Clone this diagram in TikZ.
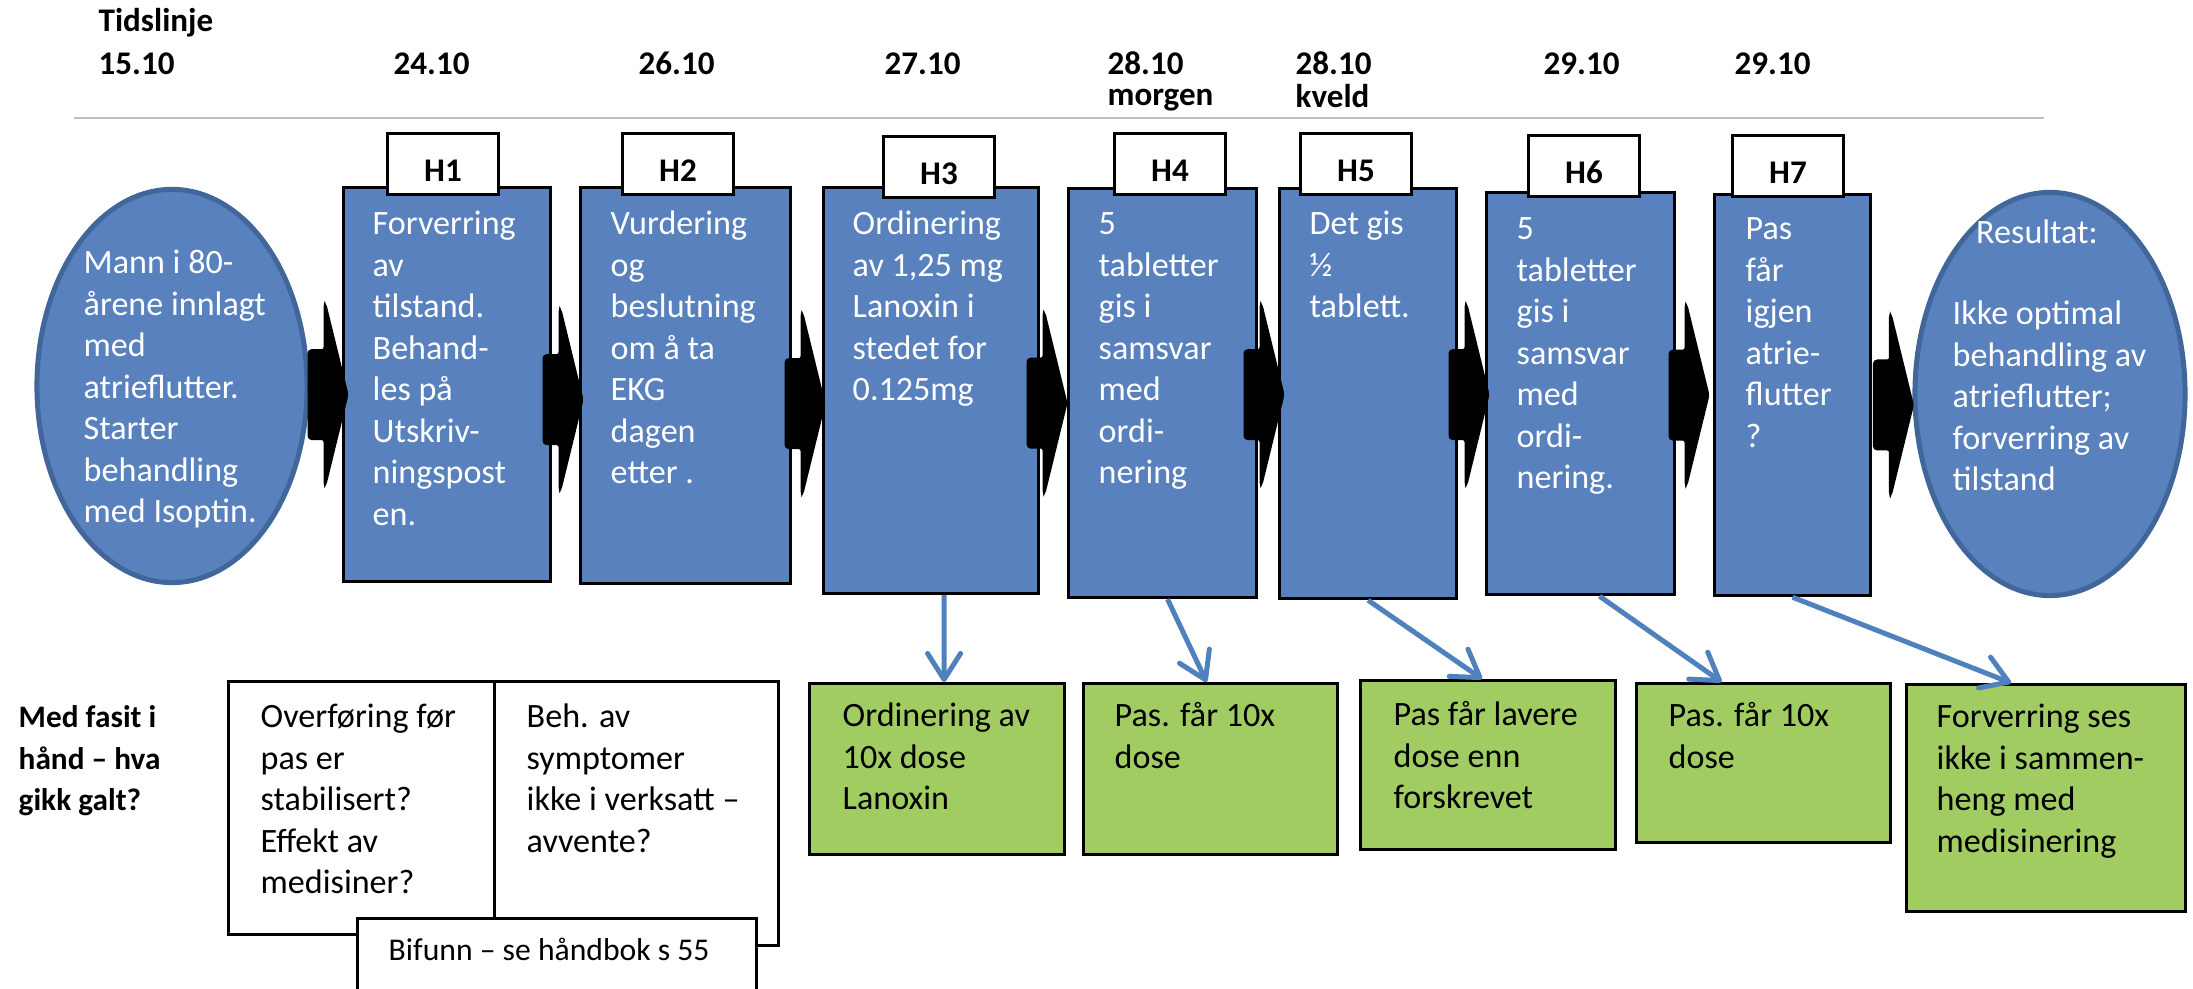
\documentclass[tikz,border=0pt]{standalone}
\usepackage{fontspec}
\setmainfont{Carlito}
\usetikzlibrary{shapes.geometric,arrows.meta,calc}
\definecolor{boxblue}{RGB}{88,129,189}
\definecolor{rimblue}{RGB}{65,103,154}
\definecolor{linkblue}{RGB}{79,129,189}
\definecolor{errgreen}{RGB}{160,204,98}
\definecolor{rulegray}{RGB}{190,190,190}
\newcommand{\textlines}[1]{\begin{tabular}[t]{@{}l@{}}#1\end{tabular}}
\tikzset{
  txt/.style={font=\fontsize{9.7}{11.8}\selectfont, anchor=base west, inner sep=0pt},
  wtxt/.style={txt, text=white},
  datelbl/.style={font=\bfseries\fontsize{9.4}{8.8}\selectfont, anchor=base west, inner sep=0pt},
  endpt/.style={ellipse, draw=rimblue, fill=boxblue, line width=0.05cm, inner sep=0pt},
  hbox/.style={draw=black, fill=boxblue, line width=0.03cm, anchor=north west, inner sep=0pt},
  hlabel/.style={draw=black, fill=white, line width=0.03cm, anchor=north west, inner ysep=0pt,
    minimum width=1.11cm, text height=0.48cm, text depth=0.13cm, font=\bfseries\fontsize{9.4}{11}\selectfont},
  errbox/.style={draw=black, fill=errgreen, line width=0.03cm, anchor=north west, inner sep=0pt},
  notebox/.style={draw=black, fill=white, line width=0.03cm, anchor=north west, inner sep=0pt},
  blockarrow/.style={draw=black, fill=black, line width=0.03cm, rounded corners=0.03cm},
  link/.style={draw=linkblue, line width=0.05cm, -{Straight Barb[length=0.26cm, width=0.33cm, round]}}
}

\begin{document}
\begin{tikzpicture}[x=0.01cm, y=-0.01cm]
  \useasboundingbox (0,0) rectangle (2193,989);
  \clip (0,0) rectangle (2193,989);

  \node[datelbl] (tl) at (98,32) {Tidslinje};
  \node[datelbl] (d1) at (98,75) {15.10};
  \node[datelbl] (d2) at (393,75) {24.10};
  \node[datelbl] (d3) at (638,75) {26.10};
  \node[datelbl] (d4) at (884,75) {27.10};
  \node[datelbl] (d5) at (1107,75) {\textlines{28.10\\morgen}};
  \node[datelbl] (d6) at (1295,75) {\textlines{28.10\\kveld}};
  \node[datelbl] (d7) at (1543,75) {29.10};
  \node[datelbl] (d8) at (1734,75) {29.10};
  \draw[rulegray, line width=0.02cm] (74,118) -- (2044,118);

  \node[endpt, minimum width=2.7cm, minimum height=3.93cm] (start) at (172,386) {};
  \node[wtxt] (starttxt) at (83,274) {\textlines{Mann i 80-\\årene innlagt\\med\\atrieflutter.\\Starter\\behandling\\med Isoptin.}};

  \node[hbox, minimum width=2.07cm, minimum height=3.94cm] (h1) at (342,186) {};
  \node[hbox, minimum width=2.10cm, minimum height=3.96cm] (h2) at (579,186) {};
  \node[hbox, minimum width=2.15cm, minimum height=4.06cm] (h3) at (822,186) {};
  \node[hbox, minimum width=1.88cm, minimum height=4.09cm] (h4) at (1067,187) {};
  \node[hbox, minimum width=1.77cm, minimum height=4.10cm] (h5) at (1278,187) {};
  \node[hbox, minimum width=1.88cm, minimum height=4.02cm] (h6) at (1485,191) {};
  \node[hbox, minimum width=1.56cm, minimum height=4.01cm] (h7) at (1713,193) {};

  \node[wtxt] (h1txt) at (372,235) {\textlines{Forverring\\av\\tilstand.\\Behand-\\les på\\Utskriv-\\ningspost\\en.}};
  \node[wtxt] (h2txt) at (610,235) {\textlines{Vurdering\\og\\beslutning\\om å ta\\EKG\\dagen\\etter .}};
  \node[wtxt] (h3txt) at (852,235) {\textlines{Ordinering\\av 1,25 mg\\Lanoxin i\\stedet for\\0.125mg}};
  \node[wtxt] (h4txt) at (1098,235) {\textlines{5\\tabletter\\gis i\\samsvar\\med\\ordi-\\nering}};
  \node[wtxt] (h5txt) at (1309,235) {\textlines{Det gis\\½\\tablett.}};
  \node[wtxt] (h6txt) at (1516,240) {\textlines{5\\tabletter\\gis i\\samsvar\\med\\ordi-\\nering.}};
  \node[wtxt] (h7txt) at (1745,240) {\textlines{Pas\\får\\igjen\\atrie-\\flutter\\?}};

  \node[hlabel] (l1) at (386,132) {H1};
  \node[hlabel] (l2) at (621,132) {H2};
  \node[hlabel] (l3) at (882,135) {H3};
  \node[hlabel] (l4) at (1113,132) {H4};
  \node[hlabel] (l5) at (1299,132) {H5};
  \node[hlabel] (l6) at (1527,134) {H6};
  \node[hlabel] (l7) at (1731,134) {H7};

  \node[endpt, minimum width=2.7cm, minimum height=4.03cm] (result) at (2050,394) {};
  \node[wtxt, anchor=base] (restitle) at (2037,244) {Resultat:};
  \node[wtxt] (restxt) at (1952,325) {\textlines{Ikke optimal\\behandling av\\atrieflutter;\\forverring av\\tilstand}};

  \foreach \b/\dx/\dy in {h1/5/10, h2/3/14, h3/2/13, h4/-1/10, h5/5/1, h6/3/1, h7/-5/0, result/0/11}
    \filldraw[blockarrow] ([shift={(\dx,\dy)}]\b.west) -- ++(-22,-90) -- ++(0,46) -- ++(-16,0)
      -- ++(0,88) -- ++(16,0) -- ++(0,46) -- cycle;

  \node[txt, font=\bfseries\fontsize{8.9}{11.8}\selectfont] (fasit) at (18,728) {\textlines{Med fasit i\\hånd -- hva\\gikk galt?}};
  \node[notebox, minimum width=2.66cm, minimum height=2.53cm] (w1) at (227,680) {};
  \node[notebox, minimum width=2.84cm, minimum height=2.64cm] (w2) at (493,680) {};
  \node[txt] (w1txt) at (260,728) {\textlines{Overføring før\\pas er\\stabilisert?\\Effekt av\\medisiner?}};
  \node[txt] (w2txt) at (526,728) {\textlines{Beh. av\\symptomer\\ikke i verksatt --\\avvente?}};
  \node[notebox, minimum width=3.99cm, minimum height=0.80cm] (w3) at (356,917) {};
  \node[txt, font=\fontsize{9}{10}\selectfont] (w3txt) at (388,961) {Bifunn -- se håndbok s 55};

  \node[errbox, minimum width=2.55cm, minimum height=1.71cm] (g1) at (808,682) {};
  \node[errbox, minimum width=2.54cm, minimum height=1.71cm] (g2) at (1082,682) {};
  \node[errbox, minimum width=2.55cm, minimum height=1.69cm] (g3) at (1359,679) {};
  \node[errbox, minimum width=2.54cm, minimum height=1.59cm] (g4) at (1635,682) {};
  \node[errbox, minimum width=2.79cm, minimum height=2.27cm] (g5) at (1905,683) {};
  \node[txt] (g1txt) at (842,727) {\textlines{Ordinering av\\10x dose\\Lanoxin}};
  \node[txt] (g2txt) at (1114,727) {\textlines{Pas. får 10x\\dose}};
  \node[txt] (g3txt) at (1393,726) {\textlines{Pas får lavere\\dose enn\\forskrevet}};
  \node[txt] (g4txt) at (1668,727) {\textlines{Pas. får 10x\\dose}};
  \node[txt] (g5txt) at (1936,728) {\textlines{Forverring ses\\ikke i sammen-\\heng med\\medisinering}};

  \draw[link] ($(h3.south)+(13,0)$) -- ($(g1.north)+(7,0)$);
  \draw[link] ($(h4.south)+(5,0)$) -- ($(g2.north)+(-4,0)$);
  \draw[link] (h5.south) -- ($(g3.north)+(-6,0)$);
  \draw[link] ($(h6.south)+(19,0)$) -- ($(g4.north)+(-42,0)$);
  \draw[link] (h7.south) -- ($(g5.north)+(-35,0)$);
\end{tikzpicture}
\end{document}
